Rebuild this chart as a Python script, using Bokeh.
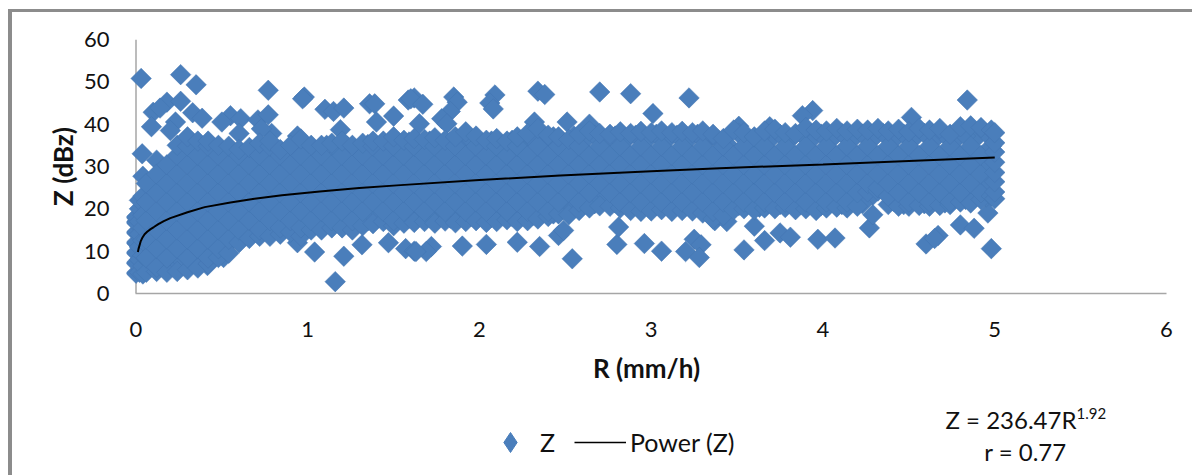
from bokeh.plotting import figure
from bokeh.embed import file_html
from bokeh.resources import INLINE
from bokeh.layouts import column
from bokeh.models import Range1d, FixedTicker, Span, Label, Legend, LegendItem

FONT = "Lato"
BLUE = "#4a7ebb"
INK = "#111111"

# isolated points
out_r = [0.03,0.26,0.35,0.77,0.98,0.97,0.10,0.09,0.18,0.26,0.14,0.33,0.385,0.23,0.20,0.55,0.50,0.61,0.60,0.71,0.77,0.79,0.73,0.94,
         1.10,1.15,1.21,1.19,1.36,1.39,1.50,1.40,1.585,1.62,0.036,0.12,0.04,
         1.16,1.21,1.04,0.94,0.416,0.51,1.316,1.47,1.57,1.62,
         2.70,2.88,3.22,2.34,2.38,2.09,2.06,2.08,1.85,1.87,1.83,1.78,1.81,1.60,1.67,1.65,3.01,2.51,2.32,2.64,
         2.54,2.35,2.22,2.04,1.90,1.72,1.69,1.63,2.46,2.49,2.80,2.81,2.96,3.06,3.20,3.25,3.29,3.28,3.37,
         4.84,3.94,3.88,4.515,3.51,3.69,3.54,3.66,3.60,3.75,3.81,3.97,4.07,4.27,4.29,4.60,4.67,4.65,4.80,4.88,4.98,4.96,3.44]
out_z = [50.8,51.7,49.3,48.0,46.4,46.0,42.8,39.4,45.2,45.4,43.8,42.7,41.4,40.5,38.5,42.0,40.5,41.3,37.8,41.0,42.2,37.8,38.9,37.2,
         43.5,43.0,43.8,38.7,44.8,44.8,41.9,40.5,45.7,46.2,33.0,31.5,27.7,
         2.8,8.8,9.8,12.0,6.6,8.5,11.5,12.0,10.6,10.0,
         47.6,47.2,46.2,47.8,47.0,46.9,45.0,43.6,46.4,45.2,43.0,41.3,40.1,46.0,44.7,40.1,42.5,40.5,40.5,40.0,
         8.2,11.1,12.1,11.6,11.2,11.1,9.9,9.9,13.7,14.9,11.6,15.7,11.8,10.0,9.9,12.8,11.5,8.5,17.2,
         45.7,43.2,42.0,41.6,39.5,39.4,10.3,12.5,15.9,14.3,13.3,12.8,13.1,15.5,18.6,11.7,13.7,13.0,16.2,15.4,10.6,19.0,17.0]

# the dense band: estimated columns of points, column by column
band_r = [0.00,0.02,0.04,0.06,0.12,0.18,0.24,0.30,0.36,0.42,0.48,0.54,0.60,0.66,0.72,0.78,0.84,0.90,0.96,1.02,1.08,1.14,1.20,1.26,1.32,1.38,1.44,
          1.50,1.56,1.62,1.68,1.74,1.80,1.86,1.92,1.98,2.04,2.10,2.16,2.22,2.28,2.34,2.40,2.46,2.52,2.58,2.64,2.70,2.76,2.82,2.88,2.94,3.00,
          3.06,3.12,3.18,3.24,3.30,3.36,3.42,3.48,3.54,3.60,3.66,3.72,3.78,3.84,3.90,3.96,4.02,4.08,4.14,4.20,4.26,4.32,4.38,4.44,4.50,4.56,
          4.62,4.68,4.74,4.80,4.86,4.92,4.98,5.00]
band_z = [
 [4.8,7.2,9.6,12.0,14.4,16.8,18.0],[5.0,8.0,11.0,14.0,17.0,20.0,22.0],[4.6,6.5,9.0,12.5,15.5,18.5,23.0],
 [5.0,8.4,12.8,17.2,21.6,26.0],[5.2,6.2,10.6,15.0,19.4,23.8,28.2],[5.0,8.4,12.8,17.2,21.6,26.0,30.4],
 [5.2,10.6,15.0,19.4,23.8,28.2,32.6,35.0],[5.6,8.4,12.8,17.2,21.6,26.0,30.4,34.8,37.0],[6.0,10.6,15.0,19.4,23.8,28.2,32.6,36.0],
 [7.0,8.4,12.8,17.2,21.6,26.0,30.4,34.8,36.0],[8.5,10.6,15.0,19.4,23.8,28.2,32.6,35.0],[9.5,12.8,17.2,21.6,26.0,30.4,34.8],
 [12.0,15.0,19.4,23.8,28.2,32.6,34.0],[13.0,17.2,21.6,26.0,30.4,34.5],[13.5,15.0,19.4,23.8,28.2,32.6,35.5],
 [13.5,17.2,21.6,26.0,30.4,34.8,36.0],[14.0,15.5,19.4,23.8,28.2,32.6,34.0],[14.5,17.2,21.6,26.0,30.4,35.0],
 [13.5,15.5,19.4,23.8,28.2,32.6,36.5],[15.0,17.2,21.6,26.0,30.4,35.0],[15.0,19.4,23.8,28.2,32.6,35.0],
 [15.5,17.2,21.6,26.0,30.4,35.5],[15.5,19.4,23.8,28.2,32.6,36.0],[15.0,17.2,21.6,26.0,30.4,35.0],
 [16.0,19.4,23.8,28.2,32.6,35.5],[16.5,21.6,26.0,30.4,34.8,36.0],[17.0,19.4,23.8,28.2,32.6,36.0],
 [16.0,17.2,21.6,26.0,30.4,34.8,37.0],[16.6,19.4,23.8,28.2,32.6,36.2],[16.8,21.6,26.0,30.4,34.8,36.6],
 [17.0,19.4,23.8,28.2,32.6,36.4],[16.6,21.6,26.0,30.4,34.8,36.8],[17.1,19.4,23.8,28.2,32.6,36.2],
 [16.7,21.6,26.0,30.4,34.8,37.0],[17.0,19.4,23.8,28.2,32.6,38.2],[17.2,21.6,26.0,30.4,34.8,37.2],
 [16.8,19.4,23.8,28.2,32.6,36.2],[17.0,21.6,26.0,30.4,34.8,36.6],[17.4,19.4,23.8,28.2,32.6,36.0],
 [17.0,21.6,26.0,30.4,34.8,37.0],[17.2,19.4,23.8,28.2,32.6,37.8],[17.6,21.6,26.0,30.4,34.8,39.0],
 [18.2,19.4,23.8,28.2,32.6,37.4],[18.8,21.6,26.0,30.4,34.8,37.0],[18.6,23.8,28.2,32.6,36.4],
 [19.6,21.6,26.0,30.4,34.8,37.6],[20.2,23.8,28.2,32.6,38.4],[20.7,26.0,30.4,34.8,37.8],
 [20.6,23.8,28.2,32.6,37.6],[20.2,21.6,26.0,30.4,34.8,38.2],[19.6,23.8,28.2,32.6,37.8],
 [19.4,21.6,26.0,30.4,34.8,38.3],[19.5,23.8,28.2,32.6,38.0],[19.8,21.6,26.0,30.4,34.8,38.4],
 [19.4,23.8,28.2,32.6,38.0],[19.6,21.6,26.0,30.4,34.8,38.3],[19.5,23.8,28.2,32.6,38.0],
 [19.0,21.6,26.0,30.4,34.8,38.4],[17.6,19.4,23.8,28.2,32.6,37.6],[18.4,21.6,26.0,30.4,34.8,36.6],
 [19.8,23.8,28.2,32.6,38.6],[20.0,21.6,26.0,30.4,34.8,38.0],[19.8,23.8,28.2,32.6,37.0],
 [20.2,21.6,26.0,30.4,34.8,38.4],[20.0,23.8,28.2,32.6,38.8],[20.3,21.6,26.0,30.4,34.8,38.0],
 [19.8,23.8,28.2,32.6,37.8],[20.0,21.6,26.0,30.4,34.8,39.2],[19.6,23.8,28.2,32.6,38.6],
 [20.2,21.6,26.0,30.4,34.8,38.4],[20.4,23.8,28.2,32.6,39.0],[20.2,21.6,26.0,30.4,34.8,38.4],
 [20.6,23.8,28.2,32.6,38.8],[24.0,26.0,30.4,34.8,38.6],[24.2,25.0,28.2,32.6,39.0],
 [21.0,23.0,26.0,30.4,34.8,38.4],[20.6,23.8,28.2,32.6,38.8],[20.6,21.6,26.0,30.4,34.8,38.2],
 [20.8,23.8,28.2,32.6,39.0],[20.6,21.6,26.0,30.4,34.8,38.6],[20.8,23.8,28.2,32.6,39.0],
 [21.0,21.6,26.0,30.4,34.8,37.6],[21.6,23.8,28.2,32.6,39.4],[21.4,26.0,30.4,34.8,39.6],
 [22.2,23.8,28.2,32.6,39.2],[23.0,26.0,30.4,34.8,38.6],[22.4,24.0,26.4,28.6,31.0,33.4,35.6,38.0],
]

# extra estimated points that close the band under its upper edge and above its lower edge
upper_r = [0.93,1.05,1.17,1.29,1.41,1.53,1.65,1.77,1.89,2.01,2.13,2.25,2.37,2.49,2.61,2.73,2.85,2.97,3.09,3.21,3.33,3.45,3.57,3.69,3.81,3.93,4.05,4.17,4.29,4.41,4.53,4.65,4.77,4.89]
upper_z = [33.6,33.8,33.4,33.9,34.2,34.6,34.4,34.8,35.2,35.0,34.6,35.4,35.8,35.6,36.0,35.8,36.2,36.0,36.2,36.0,36.3,35.0,35.4,36.2,36.4,36.2,36.4,36.3,36.5,36.2,36.6,36.4,36.2,36.6]
upper2_r = [1.47,1.59,1.71,1.83,1.95,2.07,2.19,2.31,2.43,2.55,2.67,2.79,2.91,3.03,3.15,3.27,3.39,3.51,3.63,3.75,3.87,3.99,4.11,4.23,4.35,4.47,4.59,4.71,4.83,4.95]
upper2_z = [31.2,31.6,31.0,31.4,31.8,31.2,31.6,32.0,32.4,32.2,32.8,32.4,32.6,32.8,32.4,32.6,32.2,32.8,32.4,32.6,33.0,32.6,32.8,33.0,32.6,32.8,33.0,32.6,33.0,32.8]
upper3_r = [0.99,1.11,1.23,1.35,1.47,1.59,1.71,1.83,1.95,2.07,2.19,2.31,2.43,2.55,2.67,2.79,2.91,3.03,3.15,3.27,3.39,3.51,3.63,3.75,3.87,3.99,4.11,4.23,4.35,4.47,4.59,4.71,4.83,4.95]
upper3_z = [34.8,35.0,34.8,35.2,35.6,35.8,36.0,35.8,36.4,36.0,36.2,36.4,37.0,37.2,37.4,37.2,37.4,37.6,37.4,37.6,36.2,37.8,36.8,37.6,37.8,37.6,37.8,37.6,37.8,37.6,37.8,37.4,37.2,37.8]
lower_r = [0.93,1.05,1.17,1.29,1.41,1.53,1.65,1.77,1.89,2.01,2.13,2.25,2.37,2.49,2.61,2.73,2.85,2.97,3.09,3.21,3.33,3.45,3.57,3.69,3.81,3.93,4.05,4.17,4.29,4.41,4.53,4.65,4.77,4.89]
lower_z = [18.0,18.2,18.6,18.4,19.0,19.4,19.2,19.6,19.4,19.8,19.6,20.0,19.8,21.0,22.4,23.0,22.6,22.2,22.4,22.0,22.2,20.6,21.6,22.4,22.6,22.2,22.4,22.6,23.2,21.8,23.0,23.2,23.4,24.4]
lower2_r = [1.47,1.59,1.71,1.83,1.95,2.07,2.19,2.31,2.43,2.55,2.67,2.79,2.91,3.03,3.15,3.27,3.39,3.51,3.63,3.75,3.87,3.99,4.11,4.23,4.35,4.47,4.59,4.71,4.83,4.95]
lower2_z = [23.0,23.4,23.0,23.4,23.6,23.2,23.6,23.8,24.2,24.8,25.6,25.2,25.0,25.4,25.0,25.2,24.6,25.0,25.4,25.2,25.0,25.4,25.0,25.4,26.4,24.8,25.4,25.6,25.4,26.2]
lower3_r = [0.99,1.11,1.23,1.35,1.47,1.59,1.71,1.83,1.95,2.07,2.19,2.31,2.43,2.55,2.67,2.79,2.91,3.03,3.15,3.27,3.39,3.51,3.63,3.75,3.87,3.99,4.11,4.23,4.35,4.47,4.59,4.71,4.83,4.95]
lower3_z = [16.4,16.6,16.8,17.2,17.6,17.8,18.0,17.8,18.2,18.0,18.2,18.4,18.8,20.2,21.2,21.4,21.0,20.8,21.0,20.8,18.6,20.8,20.4,21.0,21.0,20.8,21.0,21.2,24.6,21.0,21.2,21.4,22.2,22.8]
# lower left corner of the band
corner_r = [0.09,0.15,0.21,0.27,0.33,0.39,0.45,0.03,0.09,0.15,0.21,0.27,0.33,0.39,0.45,0.51,0.57]
corner_z = [6.8,7.0,7.4,7.6,8.0,8.8,9.8,7.0,10.4,10.8,10.2,10.8,11.2,11.4,12.0,12.6,13.0]

# power trend line
trend_r = [0.011,0.015,0.02,0.027,0.036,0.05,0.065,0.085,0.104,0.13,0.162,0.2,0.3,0.4,0.55,0.69,0.85,1.07,1.3,1.54,2.0,2.47,3.0,3.4,4.0,4.5,5.0]
trend_z = [9.8,10.6,11.3,12.3,13.1,14.0,14.6,15.2,15.7,16.4,17.1,17.8,19.2,20.4,21.5,22.4,23.2,24.1,24.9,25.6,26.8,27.9,28.9,29.6,30.5,31.3,32.1]

x_ticks = [0,1,2,3,4,5,6]
y_ticks = [0,10,20,30,40,50,60]

pts_r = out_r + upper_r + upper2_r + upper3_r + lower_r + lower2_r + lower3_r + corner_r
pts_z = out_z + upper_z + upper2_z + upper3_z + lower_z + lower2_z + lower3_z + corner_z
for r, col in zip(band_r, band_z):
    pts_r += [r] * len(col)
    pts_z += col

p = figure(width=1180, height=383, output_backend="svg", toolbar_location=None,
           x_range=Range1d(-0.0553, 6), y_range=Range1d(0, 60),
           min_border_left=114, min_border_right=26, min_border_top=27, min_border_bottom=102)
p.grid.visible = False
p.outline_line_color = None

xa, ya = p.xaxis[0], p.yaxis[0]
xa.ticker = FixedTicker(ticks=x_ticks)
ya.ticker = FixedTicker(ticks=y_ticks)
xa.bounds = (0, 6)
for a in (xa, ya):
    a.major_tick_line_color = None
    a.minor_tick_line_color = None
    a.major_label_text_font = FONT
    a.major_label_text_font_size = "22px"
    a.major_label_text_color = INK
    a.axis_label_text_font = FONT
    a.axis_label_text_font_size = "26px"
    a.axis_label_text_font_style = "bold"
    a.axis_label_text_color = INK
xa.axis_line_color = "#a6a6a6"
xa.axis_line_width = 1.5
ya.axis_line_color = None
xa.major_label_standoff = 22
ya.major_label_standoff = 11
xa.axis_label = "R (mm/h)"
ya.axis_label = "Z (dBz)"
xa.axis_label_standoff = 12
ya.axis_label_standoff = 2

p.add_layout(Span(location=0, dimension="height", line_color="#a6a6a6", line_width=1.5, level="underlay"))
p.scatter(pts_r, pts_z, marker="square", angle=0.7854, size=14.5,
          fill_color=BLUE, line_color="#4275b0", line_width=0.5)
p.line(trend_r, trend_z, line_color="black", line_width=2)

# lower strip: legend and equation. Its range starts past the data, so its key glyphs draw only in the legend.
# A column lines this strip's frame up with the plot's frame, so its positions count from there.
q = figure(width=1180, height=80, output_backend="svg", toolbar_location=None,
           x_range=Range1d(12, 1192), y_range=Range1d(100, 180),
           min_border_left=0, min_border_right=0, min_border_top=0, min_border_bottom=0)
q.xaxis.visible = False
q.yaxis.visible = False
q.grid.visible = False
q.outline_line_color = None
key = q.scatter(out_r[:1], out_z[:1], marker="diamond", size=23, fill_color=BLUE, line_color=BLUE)
power = q.line(trend_r, trend_z, line_color="black", line_width=1.5)
legend = Legend(items=[LegendItem(label="Z", renderers=[key]), LegendItem(label="Power (Z)", renderers=[power])],
                orientation="horizontal", location=(358, 8), border_line_color=None,
                background_fill_alpha=0, padding=0, margin=0, spacing=14,
                glyph_width=52, glyph_height=50, label_standoff=4,
                label_text_font=FONT, label_text_font_size="25px", label_text_color=INK)
q.add_layout(legend, "center")

def text(px, py, s, size="24px", **kw):
    q.add_layout(Label(x=px - 126, y=475 - py, x_units="screen", y_units="screen", text=s, text_font=FONT,
                       text_font_size=size, text_color=INK, text_baseline="middle", **kw))

text(945, 419, "Z = 236.47R")
text(1076, 413, "1.92", size="15px")
text(1025, 451, "r = 0.77", text_align="center")

page = column(p, q, margin=(9, 0, 0, 8), spacing=0,
              styles={"border-left": "4px solid #8c8c8c", "border-top": "3px solid #8c8c8c"})
open("out.html", "w").write(file_html(page, INLINE))
